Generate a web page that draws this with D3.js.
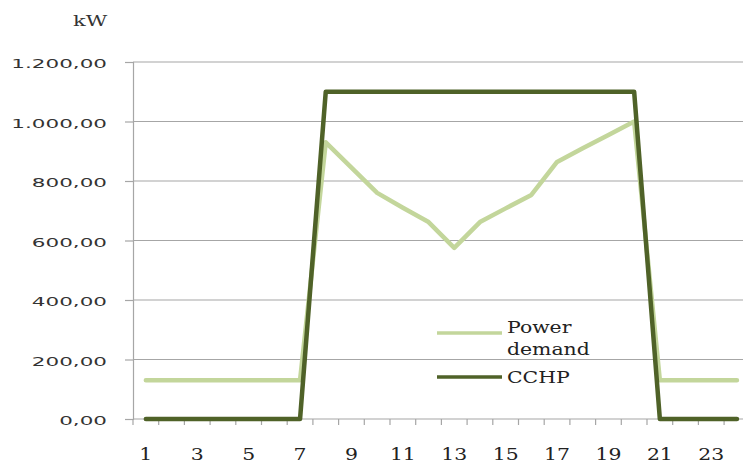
<!DOCTYPE html>
<html>
<head>
<meta charset="utf-8">
<script src="https://cdn.jsdelivr.net/npm/d3@7"></script>
<style>
  body { margin: 0; background: #fff; }
  svg { display: block; }
</style>
</head>
<body>
<svg id="chart"></svg>
<script>
// horas do dia
const hours = d3.range(1, 25)
// procura de energia (kW)
const powerDemand = [130, 130, 130, 130, 130, 130, 130, 930, 845, 760, 710, 662, 575, 662, 708, 753, 864, 910, 955, 1000, 130, 130, 130, 130]
// producao CCHP (kW)
const cchp = [0, 0, 0, 0, 0, 0, 0, 1100, 1100, 1100, 1100, 1100, 1100, 1100, 1100, 1100, 1100, 1100, 1100, 1100, 0, 0, 0, 0]
const yTicks = [0, 200, 400, 600, 800, 1000, 1200]
const xLabels = [1, 3, 5, 7, 9, 11, 13, 15, 17, 19, 21, 23]

const series = [
    { name: ["Power", "demand"], values: powerDemand, color: "#c3d69b" },
    { name: ["CCHP"], values: cchp, color: "#4f6228" }
]

let svgWidth = 743
let svgHeight = 465
let margin = { left: 133, top: 62 }
let bandStep = 25.7
let chartHeight = 357

const serifFont = "DejaVu Serif"

const svg = d3.select("#chart")
    .attr("width", svgWidth)
    .attr("height", svgHeight)

const gridColor = "#a6a6a6"

let xScale = d3.scaleBand()
    .domain(hours)
    .range([margin.left, margin.left + bandStep * hours.length])

let yScale = d3.scaleLinear()
    .domain([0, 1200])
    .range([margin.top + chartHeight, margin.top])

// numeros em formato PT
function numberFormatPT(num) {
    return num.toFixed(2).replace('.', ',').replace(/(\d)(?=(\d{3})+(?!\d))/g, '$1.')
}

// linhas de grelha
svg.append("g")
    .selectAll("line")
    .data(yTicks.filter(d => d > 0))
    .join("line")
    .attr("x1", margin.left)
    .attr("x2", xScale.range()[1])
    .attr("y1", d => yScale(d))
    .attr("y2", d => yScale(d))
    .attr("stroke", gridColor)
    .attr("stroke-width", 1.2)

// eixo Y
const yAxis = svg.append("g")
    .attr("transform", `translate(${margin.left},0)`)
    .call(d3.axisLeft(yScale).tickValues(yTicks).tickSize(8).tickFormat(numberFormatPT))

yAxis.select(".domain").attr("stroke", gridColor).attr("stroke-width", 1.2)
yAxis.selectAll("line").attr("stroke", gridColor).attr("stroke-width", 1.2)
yAxis.selectAll("text")
    .attr("x", 0)
    .attr("dy", "0.45em")
    .attr("transform", "translate(-26,0) scale(1.72,1)")
    .attr("font-family", "DejaVu Sans")
    .attr("font-size", 12.5)
    .attr("fill", "#333")

// eixo X
const xAxisY = yScale(0)
svg.append("line")
    .attr("x1", margin.left)
    .attr("x2", xScale.range()[1])
    .attr("y1", xAxisY)
    .attr("y2", xAxisY)
    .attr("stroke", gridColor)
    .attr("stroke-width", 1.2)

svg.append("g")
    .selectAll("line")
    .data(hours.concat([25]))
    .join("line")
    .attr("x1", d => d <= 24 ? xScale(d) : xScale.range()[1])
    .attr("x2", d => d <= 24 ? xScale(d) : xScale.range()[1])
    .attr("y1", xAxisY)
    .attr("y2", xAxisY + 6)
    .attr("stroke", gridColor)
    .attr("stroke-width", 1.2)

svg.append("g")
    .selectAll("text")
    .data(xLabels)
    .join("text")
    .attr("transform", d => `translate(${xScale(d) + xScale.bandwidth() / 2},460) scale(1.2,1)`)
    .attr("text-anchor", "middle")
    .attr("font-family", serifFont)
    .attr("font-size", 17)
    .attr("fill", "#222")
    .text(d => d)

// unidade
svg.append("text")
    .attr("transform", "translate(73,26) scale(1.4,1)")
    .attr("font-family", serifFont)
    .attr("font-size", 15)
    .attr("fill", "#333")
    .text("kW")

// linhas
const line = d3.line()
    .x((d, i) => xScale(hours[i]) + xScale.bandwidth() / 2)
    .y(d => yScale(d))

svg.append("g")
    .selectAll("path")
    .data(series)
    .join("path")
    .attr("d", d => line(d.values))
    .attr("fill", "none")
    .attr("stroke", d => d.color)
    .attr("stroke-width", 4.5)
    .attr("stroke-linejoin", "round")
    .attr("stroke-linecap", "round")

// legenda
const legend = svg.append("g")
const legendRows = [{ s: series[0], y: 333 }, { s: series[1], y: 377 }]

legend.selectAll("line")
    .data(legendRows)
    .join("line")
    .attr("x1", 437)
    .attr("x2", 502)
    .attr("y1", d => d.y)
    .attr("y2", d => d.y)
    .attr("stroke", d => d.s.color)
    .attr("stroke-width", 3.5)

legend.selectAll("g")
    .data(legendRows)
    .join("g")
    .attr("transform", d => `translate(507,${d.y + 6 - (d.s.name.length - 1) * 6}) scale(1.2,1)`)
    .each(function (d) {
        d3.select(this).selectAll("text")
            .data(d.s.name)
            .join("text")
            .attr("y", (t, i) => i * 22)
            .attr("font-family", serifFont)
            .attr("font-size", 17)
            .attr("fill", "#222")
            .text(t => t)
    })
</script>
</body>
</html>
